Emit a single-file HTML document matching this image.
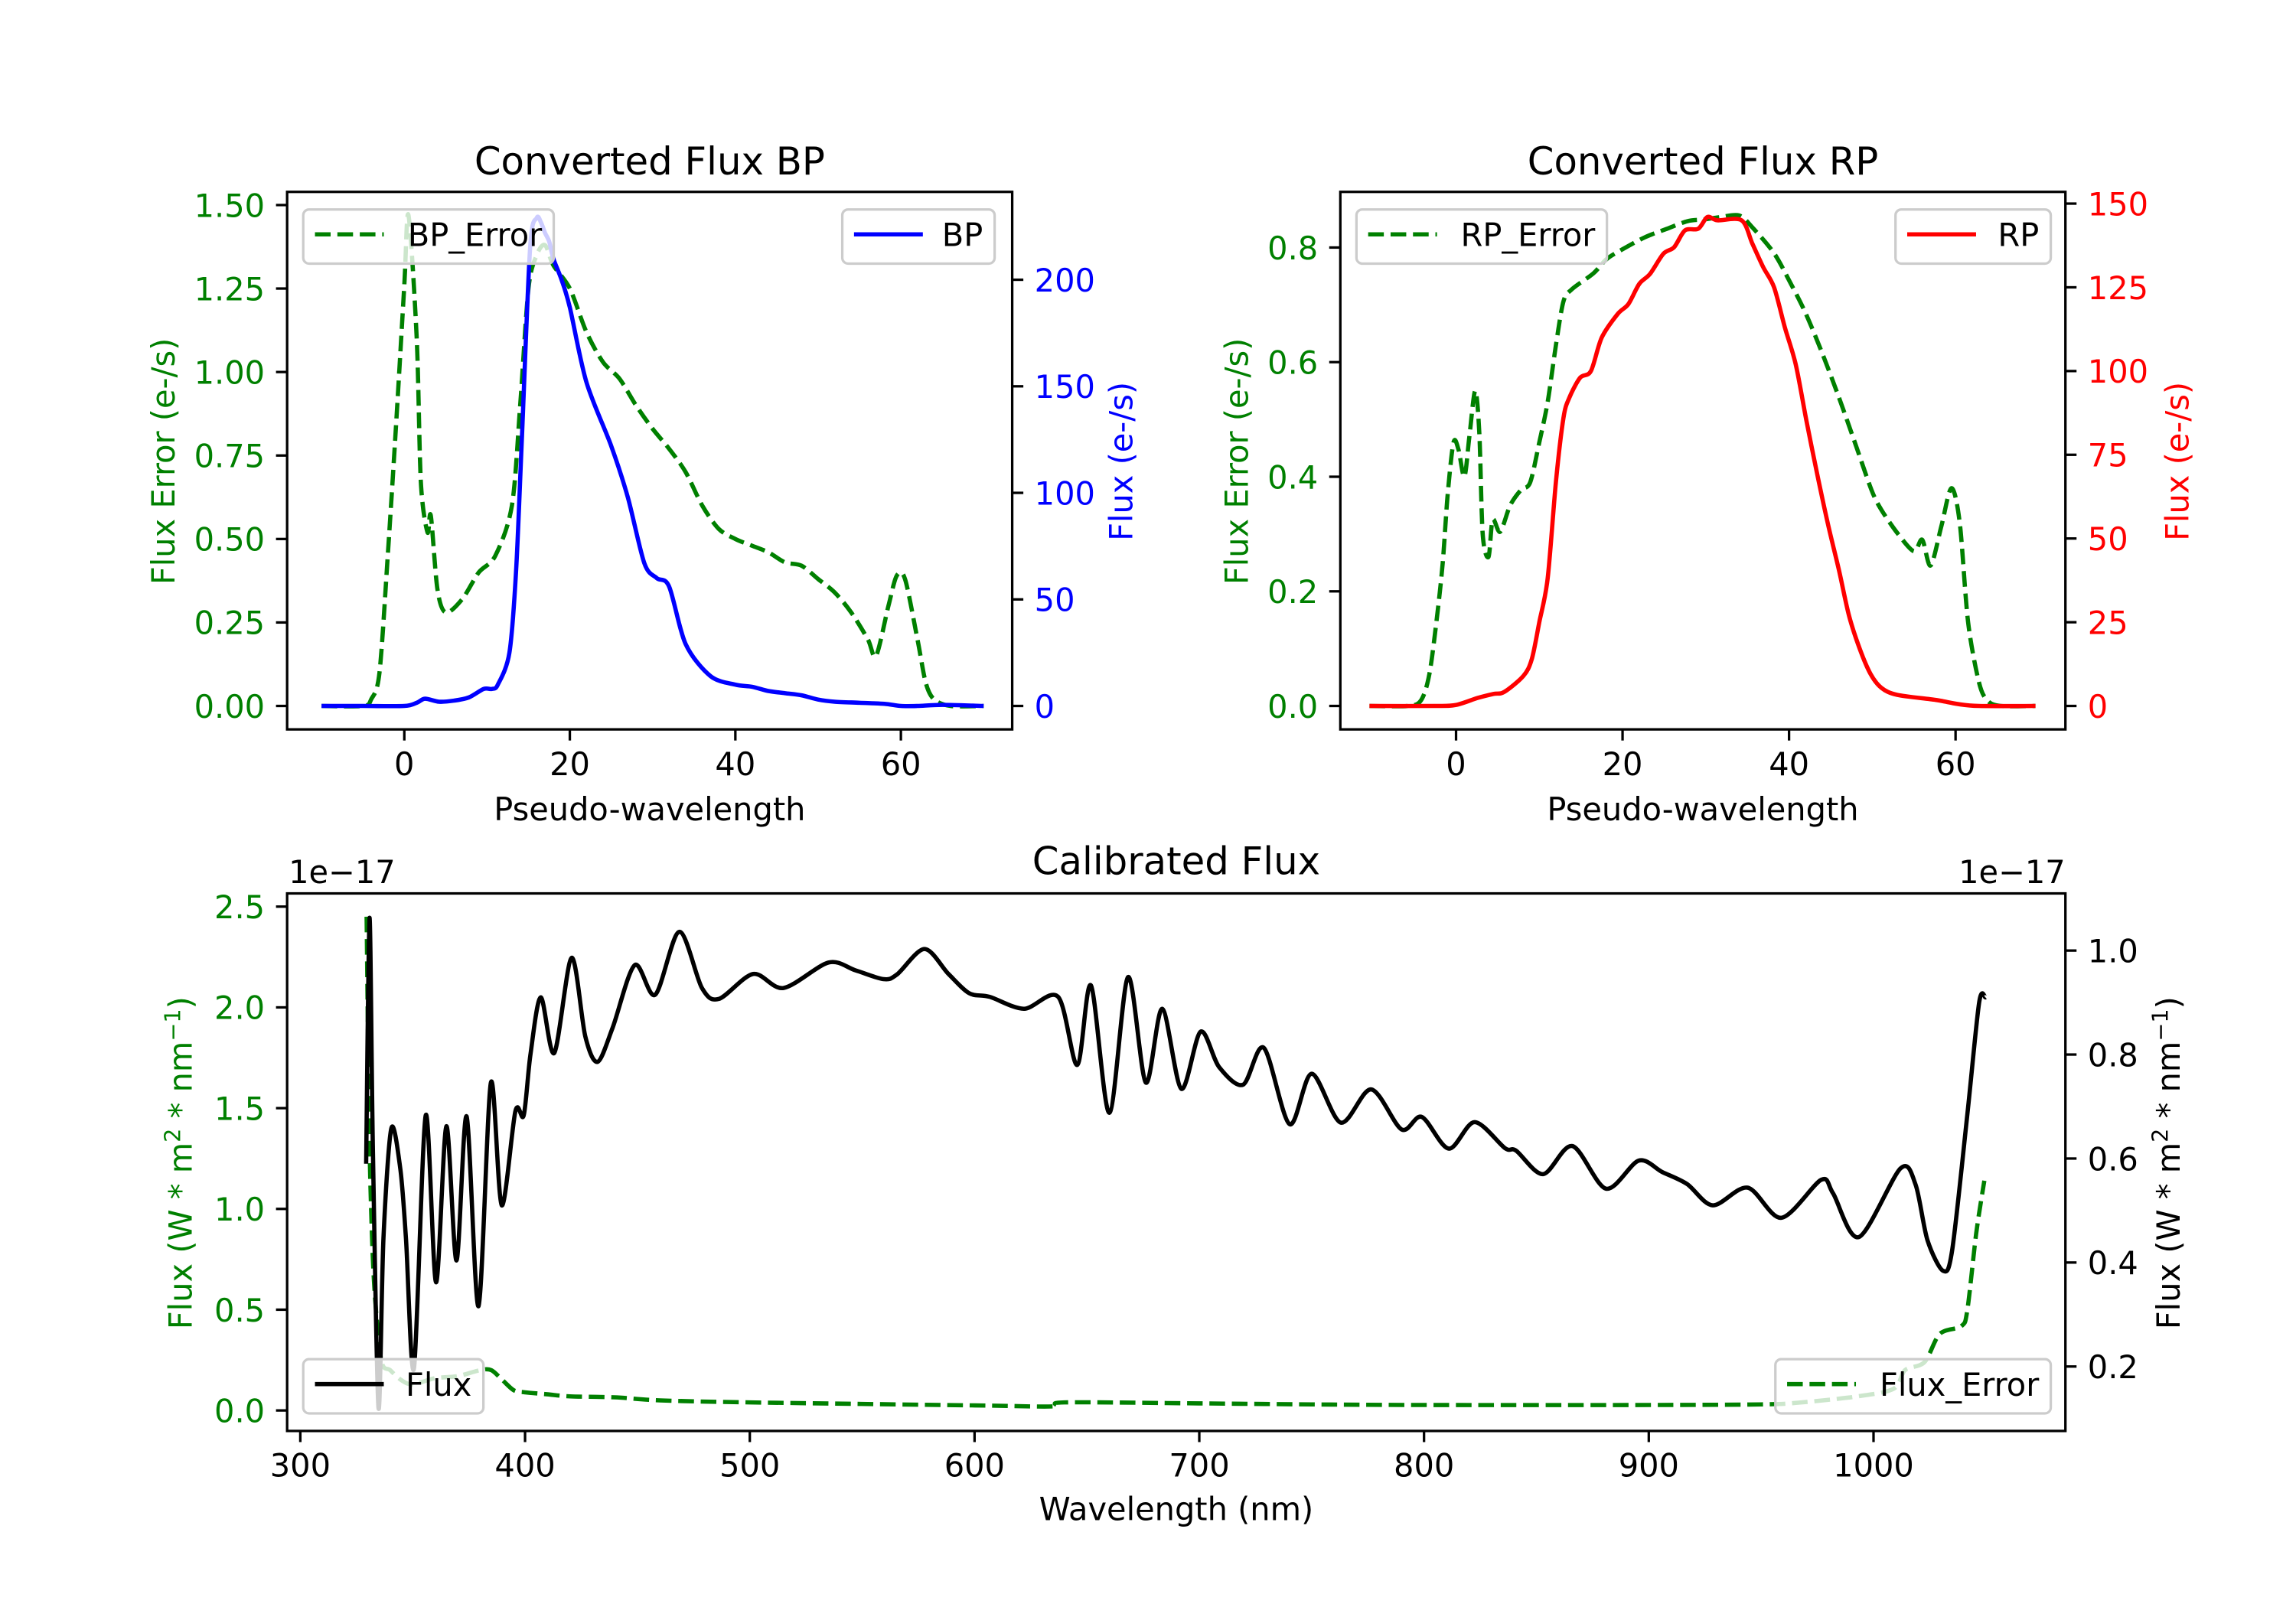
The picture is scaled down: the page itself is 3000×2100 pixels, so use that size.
<!DOCTYPE html>
<html><head><meta charset="utf-8"><style>
html,body{margin:0;padding:0;background:#fff;}
svg{display:block;}
text{font-family:"DejaVu Sans","Liberation Sans",sans-serif;}
</style></head><body>
<svg id="fig" xmlns="http://www.w3.org/2000/svg" width="3000" height="2100" viewBox="0 0 1567.4 1097.2">
<rect x="0" y="0" width="1567.4" height="1097.2" fill="#fff"/>
</svg>
<script>
// ---------- BP panel data ----------
const bpX = [-10,-5,0,1.5,2.5,4.2,6,7.8,9.6,10.6,11.3,12.7,13.5,14.2,15.2,16,16.5,17,17.5,18,19,20,22,25,27,29,30.5,32,34,37,40,42,44,46,48,50,52,55,58,60,62,65,70];
const bpFlux = [0,0,0,1.5,3.4,2,2.5,4,8,8,10,25,63,125,215,229,227,222,218,210,200,187,152,122,98,67,60,56,29,14,10,9,7,6,5,3,2,1.5,1,0,0,0.5,0];
const bpErrX = [-10,-5,-4,-3,-2,-1,0,0.5,1.5,2,2.8,3.2,4,5,7,9,11,13,14,15,16,17,18,20,22,24,26,28,30,32,34,36,38,40,42,44,46,48,50,52,54,56,57,58.5,59.5,60.5,62,63,64,66,70];
const bpErr = [0,0,0.02,0.1,0.45,0.84,1.26,1.47,1.1,0.67,0.52,0.57,0.35,0.28,0.32,0.4,0.45,0.6,0.9,1.25,1.35,1.38,1.32,1.25,1.12,1.03,0.98,0.9,0.83,0.77,0.7,0.6,0.53,0.5,0.48,0.46,0.43,0.42,0.38,0.34,0.28,0.2,0.15,0.3,0.39,0.38,0.2,0.07,0.02,0,0];
const bpXTicks = [0,20,40,60];
const bpLTicks = [0,0.25,0.5,0.75,1.0,1.25,1.5];
const bpLTickLabels = ["0.00","0.25","0.50","0.75","1.00","1.25","1.50"];
const bpRTicks = [0,50,100,150,200];

// ---------- RP panel data ----------
const rpX = [-10.4,-2.6,0,2.6,4.5,5.8,8.1,9.1,10,11,12,12.9,13.6,14.9,16.2,17.5,19.4,20.7,22,23.3,24.9,26.2,27.5,29.1,30.2,31.4,34.3,35.6,36.9,38.2,39.5,40.8,42.1,43.4,44.7,46,47.2,48.5,49.8,51.1,53,57.6,60.2,62.8,69.6];
const rpFlux = [0,0,0.3,2.4,3.6,4.2,9,14,25,38,67,86,92,98,100,110,117,120,126,129,135,137,142,142.5,146,145,145,138,131,125,113,102,85,69,54,40.5,27,17,9.5,5.4,3.3,1.8,0.6,0,0];
const rpErrX = [-10.4,-5.8,-4.2,-3.2,-2.3,-1.6,-1,-0.3,0.3,1,1.6,2.3,2.8,3.2,3.9,4.4,5.3,6.5,7.8,8.9,10,11,12,12.9,13.9,16.5,18.1,20,22.7,25.2,27.8,29.8,31.7,34,35.6,38.2,40.1,42,44,46,47.9,49.9,51.1,53.1,55,56,57,58.3,59.5,60.5,61.5,62.8,63.8,65.4,69.6];
const rpErr = [0,0,0.01,0.056,0.154,0.25,0.37,0.46,0.447,0.4,0.47,0.55,0.475,0.3,0.26,0.325,0.304,0.35,0.377,0.39,0.46,0.53,0.63,0.706,0.727,0.755,0.78,0.797,0.818,0.832,0.846,0.849,0.853,0.856,0.835,0.79,0.74,0.685,0.615,0.538,0.46,0.377,0.342,0.3,0.27,0.29,0.245,0.314,0.38,0.32,0.147,0.042,0.01,0,0];
const rpXTicks = [0,20,40,60];
const rpLTicks = [0,0.2,0.4,0.6,0.8];
const rpLTickLabels = ["0.0","0.2","0.4","0.6","0.8"];
const rpRTicks = [0,25,50,75,100,125,150];

// ---------- Calibrated flux data (units of 1e-17) ----------
const calX = [329.3,330.8,332.3,334.8,337,340.5,344.5,347,350.6,355.8,360.4,365,369.5,374,379.3,384.8,389.6,395.7,399.4,402.4,407,413,420.7,426.8,432.3,439,448.8,457.9,468.6,478.7,486.3,501.5,515,535,547,559.5,565.5,577.7,588.4,597.6,606.7,622,637.2,645.7,651.8,660,668.3,676.2,683.5,692,700.6,708.8,719.5,728.7,740.2,750,763,776.5,790,799,811,822.5,836,841,853,866,881,895.5,906,917,928.5,944,959,976.7,982,993.5,1012,1018.7,1024,1031,1035,1041.7,1047,1049.8];
const calFlux = [0.59,1.063,0.616,0.12,0.447,0.658,0.58,0.447,0.197,0.683,0.362,0.662,0.404,0.681,0.316,0.746,0.51,0.691,0.683,0.8,0.91,0.803,0.986,0.835,0.786,0.852,0.972,0.915,1.036,0.928,0.907,0.955,0.928,0.977,0.962,0.945,0.954,1.003,0.955,0.918,0.911,0.888,0.911,0.78,0.933,0.688,0.949,0.746,0.888,0.734,0.844,0.776,0.742,0.813,0.666,0.763,0.669,0.733,0.656,0.68,0.619,0.67,0.62,0.615,0.57,0.624,0.542,0.596,0.574,0.551,0.51,0.544,0.486,0.559,0.533,0.449,0.581,0.55,0.443,0.384,0.424,0.683,0.9,0.91];
const calErrX = [329.5,330.5,331.5,333,336,340,345,350,360,370,380,385,390,395,400,410,420,440,460,500,600,635,640,700,750,800,900,950,966,993,1009,1014,1022.7,1029.5,1039,1041.7,1045.7,1049.3];
const calErr = [2.45,1.5,1.0,0.6,0.25,0.2,0.15,0.13,0.16,0.17,0.2,0.2,0.15,0.1,0.09,0.08,0.07,0.065,0.05,0.04,0.025,0.02,0.04,0.035,0.03,0.027,0.027,0.03,0.038,0.07,0.108,0.2,0.24,0.38,0.418,0.495,0.88,1.14];
const calXTicks = [300,400,500,600,700,800,900,1000];
const calLTicks = [0,0.5,1.0,1.5,2.0,2.5];
const calLTickLabels = ["0.0","0.5","1.0","1.5","2.0","2.5"];
const calRTicks = [0.2,0.4,0.6,0.8,1.0];
const calRTickLabels = ["0.2","0.4","0.6","0.8","1.0"];

const NS = "http://www.w3.org/2000/svg";
const svg = document.getElementById('fig');
const GREEN = "#008000";
const LW = 2.9, SPINE = 1.7, TICK = 7.6, PAD = 7.6, FS = 21.7;

function mk(tag, attrs, parent) {
  const e = document.createElementNS(NS, tag);
  for (const k in attrs) e.setAttribute(k, attrs[k]);
  (parent || svg).appendChild(e);
  return e;
}
function lin(d0, d1, p0, p1) { return v => p0 + (v - d0) * (p1 - p0) / (d1 - d0); }
function smoothPath(xs, ys, fx, fy) {
  const P = xs.map((x, i) => [fx(x), fy(ys[i])]);
  let d = "M" + P[0][0].toFixed(2) + "," + P[0][1].toFixed(2);
  for (let i = 0; i < P.length - 1; i++) {
    const p0 = P[Math.max(0, i - 1)], p1 = P[i], p2 = P[i + 1], p3 = P[Math.min(P.length - 1, i + 2)];
    const t = 1 / 6 * 0.9;
    const c1 = [p1[0] + (p2[0] - p0[0]) * t, p1[1] + (p2[1] - p0[1]) * t];
    const c2 = [p2[0] - (p3[0] - p1[0]) * t, p2[1] - (p3[1] - p1[1]) * t];
    d += " C" + c1[0].toFixed(2) + "," + c1[1].toFixed(2) + " " + c2[0].toFixed(2) + "," + c2[1].toFixed(2) + " " + p2[0].toFixed(2) + "," + p2[1].toFixed(2);
  }
  return d;
}

function drawAxes(g, L, T, R, B, fx, xt, xtl, fyl, lt, ltl, lcol, fyr, rt, rtl, rcol) {
  xt.forEach((v, i) => {
    const x = fx(v);
    const tk = mk('line', {x1: x, x2: x, y1: B, y2: B + TICK, stroke: '#000', 'stroke-width': SPINE}, g);
    
    
    const tx = mk('text', {x: x, y: B + TICK + PAD + 16, 'font-size': FS, 'text-anchor': 'middle', fill: '#000'}, g);
    tx.textContent = xtl[i];
    
    
  });
  lt.forEach((v, i) => {
    const y = fyl(v);
    const tk = mk('line', {x1: L - TICK, x2: L, y1: y, y2: y, stroke: '#000', 'stroke-width': SPINE}, g);
    
    
    const tx = mk('text', {x: L - TICK - PAD, y: y + 8, 'font-size': FS, 'text-anchor': 'end', fill: lcol}, g);
    tx.textContent = ltl[i];
    
    
  });
  rt.forEach((v, i) => {
    const y = fyr(v);
    const tk = mk('line', {x1: R, x2: R + TICK, y1: y, y2: y, stroke: '#000', 'stroke-width': SPINE}, g);
    
    
    const tx = mk('text', {x: R + TICK + PAD, y: y + 8, 'font-size': FS, 'text-anchor': 'start', fill: rcol}, g);
    tx.textContent = rtl[i];
    
    
  });
}
function frame(g, L, T, R, B) {
  const f = mk('rect', {x: L, y: T, width: R - L, height: B - T, fill: 'none', stroke: '#000', 'stroke-width': SPINE}, g);
  
  
}
function series(g, xs, ys, fx, fy, col, dashed, name) {
  const p = mk('path', {d: smoothPath(xs, ys, fx, fy), fill: 'none', stroke: col, 'stroke-width': LW, 'stroke-linejoin': 'round'}, g);
  if (dashed) p.setAttribute('stroke-dasharray', '10.7 4.6');
  
  
}
function legend(g, x, y, w, label, col, dashed, name) {
  const lg = mk('g', {}, g);
  
  
  mk('rect', {x: x, y: y, width: w, height: 37, rx: 4, fill: '#fff', 'fill-opacity': 0.8, stroke: '#cccccc', 'stroke-width': 1.7}, lg);
  const ln = mk('line', {x1: x + 8, x2: x + 55, y1: y + 17, y2: y + 17, stroke: col, 'stroke-width': LW}, lg);
  if (dashed) ln.setAttribute('stroke-dasharray', '10.7 4.6');
  const t = mk('text', {x: x + w - 8, y: y + 25, 'font-size': FS, 'text-anchor': 'end', fill: '#000'}, lg);
  t.textContent = label;
}
function label(g, x, y, txt, col, rot, size, name, anchor) {
  const t = mk('text', {x: x, y: y, 'font-size': size || FS, 'text-anchor': anchor || 'middle', fill: col}, g);
  if (rot) t.setAttribute('transform', 'rotate(-90 ' + x + ' ' + y + ')');
  t.textContent = txt;
  
  
  return t;
}

// ---------- BP panel ----------
(function () {
  const g = mk('g', {});
  
  
  const L = 196, T = 131, R = 691, B = 498;
  const fx = lin(0, 60, 276, 615);
  const fyl = lin(0, 1.5, 482, 140);
  const fyr = lin(0, 200, 482, 191);
  series(g, bpErrX, bpErr, fx, fyl, GREEN, true, 'bp-error-line');
  series(g, bpX, bpFlux, fx, fyr, '#0000ff', false, 'bp-flux-line');
  frame(g, L, T, R, B);
  drawAxes(g, L, T, R, B, fx, bpXTicks, bpXTicks.map(String), fyl, bpLTicks, bpLTickLabels, GREEN, fyr, bpRTicks, bpRTicks.map(String), '#0000ff');
  legend(g, 207, 143, 171, 'BP_Error', GREEN, true, 'legend-bp-error');
  legend(g, 575, 143, 104, 'BP', '#0000ff', false, 'legend-bp');
  label(g, 443.5, 119, 'Converted Flux BP', '#000', false, 26, 'bp-title');
  label(g, 443.5, 560, 'Pseudo-wavelength', '#000', false, FS, 'bp-x-axis-title');
  label(g, 119, 315, 'Flux Error (e-/s)', GREEN, true, FS, 'bp-left-axis-title');
  label(g, 773, 315, 'Flux (e-/s)', '#0000ff', true, FS, 'bp-right-axis-title');
})();

// ---------- RP panel ----------
(function () {
  const g = mk('g', {});
  
  
  const L = 915, T = 131, R = 1410, B = 498;
  const fx = lin(0, 60, 994, 1335);
  const fyl = lin(0, 0.8, 482, 169);
  const fyr = lin(0, 150, 482, 139);
  series(g, rpErrX, rpErr, fx, fyl, GREEN, true, 'rp-error-line');
  series(g, rpX, rpFlux, fx, fyr, '#ff0000', false, 'rp-flux-line');
  frame(g, L, T, R, B);
  drawAxes(g, L, T, R, B, fx, rpXTicks, rpXTicks.map(String), fyl, rpLTicks, rpLTickLabels, GREEN, fyr, rpRTicks, rpRTicks.map(String), '#ff0000');
  legend(g, 926, 143, 171, 'RP_Error', GREEN, true, 'legend-rp-error');
  legend(g, 1294, 143, 106, 'RP', '#ff0000', false, 'legend-rp');
  label(g, 1162.5, 119, 'Converted Flux RP', '#000', false, 26, 'rp-title');
  label(g, 1162.5, 560, 'Pseudo-wavelength', '#000', false, FS, 'rp-x-axis-title');
  label(g, 852, 315, 'Flux Error (e-/s)', GREEN, true, FS, 'rp-left-axis-title');
  label(g, 1494, 315, 'Flux (e-/s)', '#ff0000', true, FS, 'rp-right-axis-title');
})();

// ---------- Calibrated panel ----------
(function () {
  const g = mk('g', {});
  
  
  const L = 196, T = 610, R = 1410, B = 977;
  const fx = lin(300, 1000, 205, 1279);
  const fyl = lin(0, 2.5, 963, 619);
  const fyr = lin(0.2, 1.0, 933, 649);
  series(g, calErrX, calErr, fx, fyl, GREEN, true, 'flux-error-line');
  series(g, calX, calFlux, fx, fyr, '#000', false, 'flux-line');
  frame(g, L, T, R, B);
  drawAxes(g, L, T, R, B, fx, calXTicks, calXTicks.map(String), fyl, calLTicks, calLTickLabels, GREEN, fyr, calRTicks, calRTickLabels, '#000');
  legend(g, 207, 928, 123, 'Flux', '#000', false, 'legend-flux');
  legend(g, 1212, 928, 188, 'Flux_Error', GREEN, true, 'legend-flux-error');
  label(g, 803, 597, 'Calibrated Flux', '#000', false, 26, 'calibrated-title');
  label(g, 803, 1038, 'Wavelength (nm)', '#000', false, FS, 'calibrated-x-axis-title');
  label(g, 197, 603, '1e\u221217', '#000', false, FS, 'left-offset-text', 'start');
  label(g, 1410, 603, '1e\u221217', '#000', false, FS, 'right-offset-text', 'end');
  function unitLabel(x, col, name) {
    const t = mk('text', {x: x, y: 794, 'font-size': FS, 'text-anchor': 'middle', fill: col, transform: 'rotate(-90 ' + x + ' 794)'}, g);
    
    
    const a = mk('tspan', {}, t); a.textContent = 'Flux (W * m';
    const b = mk('tspan', {dy: -8, 'font-size': 15}, t); b.textContent = '2';
    const c = mk('tspan', {dy: 8}, t); c.textContent = ' * nm';
    const d = mk('tspan', {dy: -8, 'font-size': 15}, t); d.textContent = '\u22121';
    const e = mk('tspan', {dy: 8}, t); e.textContent = ')';
  }
  unitLabel(131, GREEN, 'calibrated-left-axis-title');
  unitLabel(1488, '#000', 'calibrated-right-axis-title');
})();
</script>
</body></html>
